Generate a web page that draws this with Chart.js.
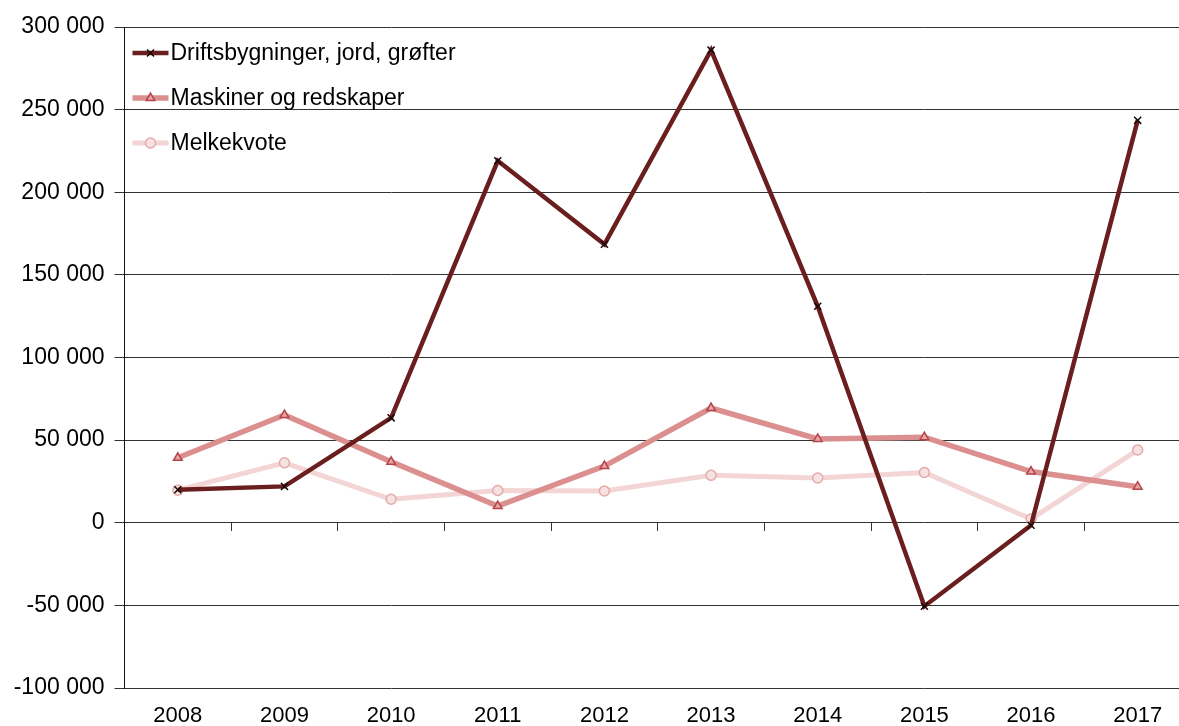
<!DOCTYPE html>
<html><head><meta charset="utf-8">
<script src="https://cdn.jsdelivr.net/npm/chart.js@4.4.1/dist/chart.umd.min.js"></script>
<style>html,body{margin:0;padding:0;overflow:hidden;background:#fff}#wrap{width:1200px;height:726px}</style>
</head><body><div id="wrap"><canvas id="c" width="1200" height="726"></canvas></div>
<script>
const years = ['2008','2009','2010','2011','2012','2013','2014','2015','2016','2017'];
const driftsbygninger = [20000, 22000, 63500, 219000, 168500, 286000, 131000, -50500, -1500, 243500];
const maskiner = [39300, 65200, 36900, 10100, 34300, 69400, 50700, 51800, 31000, 21800];
const melkekvote = [19700, 36300, 14200, 19500, 19200, 28700, 27100, 30400, 2300, 44000];
const yTicks = [-100000, -50000, 0, 50000, 100000, 150000, 200000, 250000, 300000];
const seriesNames = ['Driftsbygninger, jord, grøfter', 'Maskiner og redskaper', 'Melkekvote'];

const FONT = "'Liberation Sans', Arial, sans-serif";
function fmt(v){
  const s = Math.abs(v).toString().replace(/\B(?=(\d{3})+(?!\d))/g, ' ');
  return (v < 0 ? '-' : '') + s;
}

const legendPlugin = {
  id: 'insideLegend',
  afterDatasetsDraw(chart){
    const ctx = chart.ctx;
    const a = chart.chartArea;
    chart.data.datasets.forEach((ds, i) => {
      const y = a.top + 26 + i * 45;
      const x0 = a.left + 8, x1 = a.left + 44;
      ctx.save();
      ctx.strokeStyle = ds.borderColor;
      ctx.lineWidth = ds.borderWidth;
      ctx.beginPath(); ctx.moveTo(x0, y); ctx.lineTo(x1, y); ctx.stroke();
      ctx.fillStyle = ds.pointBackgroundColor; ctx.strokeStyle = ds.pointBorderColor; ctx.lineWidth = ds.pointBorderWidth;
      Chart.helpers.drawPoint(ctx, {pointStyle: ds.pointStyle, radius: ds.pointRadius, borderWidth: ds.pointBorderWidth, rotation: 0}, (x0 + x1) / 2, y);
      ctx.fillStyle = '#000';
      ctx.font = '23px ' + FONT;
      ctx.textBaseline = 'middle';
      ctx.textAlign = 'left';
      ctx.fillText(ds.label, x1 + 2, y + 1);
      ctx.restore();
    });
  }
};

new Chart(document.getElementById('c'), {
  type: 'line',
  data: {
    labels: years,
    datasets: [
      { label: seriesNames[0], data: driftsbygninger, borderColor: '#6a1e1e', borderWidth: 4.5,
        pointStyle: 'crossRot', pointRadius: 5, pointBorderColor: '#1a0808', pointBackgroundColor: '#1a0808', pointBorderWidth: 1.5, tension: 0 },
      { label: seriesNames[1], data: maskiner, borderColor: '#db8f8f', borderWidth: 5.5,
        pointStyle: 'triangle', pointRadius: 5, pointBorderColor: '#b3454b', pointBackgroundColor: '#e7a5a5', pointBorderWidth: 1.5, tension: 0 },
      { label: seriesNames[2], data: melkekvote, borderColor: '#f3d5d5', borderWidth: 5,
        pointStyle: 'circle', pointRadius: 5, pointBorderColor: '#e4aaaa', pointBackgroundColor: '#f7e2e2', pointBorderWidth: 1.5, tension: 0 }
    ]
  },
  options: {
    responsive: false,
    animation: false,
    layout: { padding: { top: 27, right: 9, left: 0, bottom: 0 } },
    plugins: { legend: { display: false }, tooltip: { enabled: false } },
    scales: {
      x: {
        type: 'category', offset: true, position: 'bottom',
        grid: { display: false }, border: { display: false },
        ticks: { color: '#000', font: { family: FONT, size: 22 }, padding: 7, maxRotation: 0, autoSkip: false },
        afterFit(s){ s.height = 38; }
      },
      x2: {
        type: 'category', offset: true, position: { y: 0 },
        grid: { drawOnChartArea: false, drawTicks: true, tickLength: 8, color: '#333', offset: true },
        border: { display: false },
        ticks: { display: false }
      },
      y: {
        min: -100000, max: 300000,
        afterBuildTicks(s){ s.ticks = yTicks.map(v => ({ value: v })); },
        grid: { color: '#333', lineWidth: 1, tickLength: 10 },
        border: { display: true, color: '#111', width: 1 },
        ticks: { color: '#000', font: { family: FONT, size: 23 }, padding: 10, callback: v => fmt(v) },
        afterFit(s){ s.width = 124.5; }
      }
    }
  },
  plugins: [legendPlugin]
});
</script>
</body></html>
